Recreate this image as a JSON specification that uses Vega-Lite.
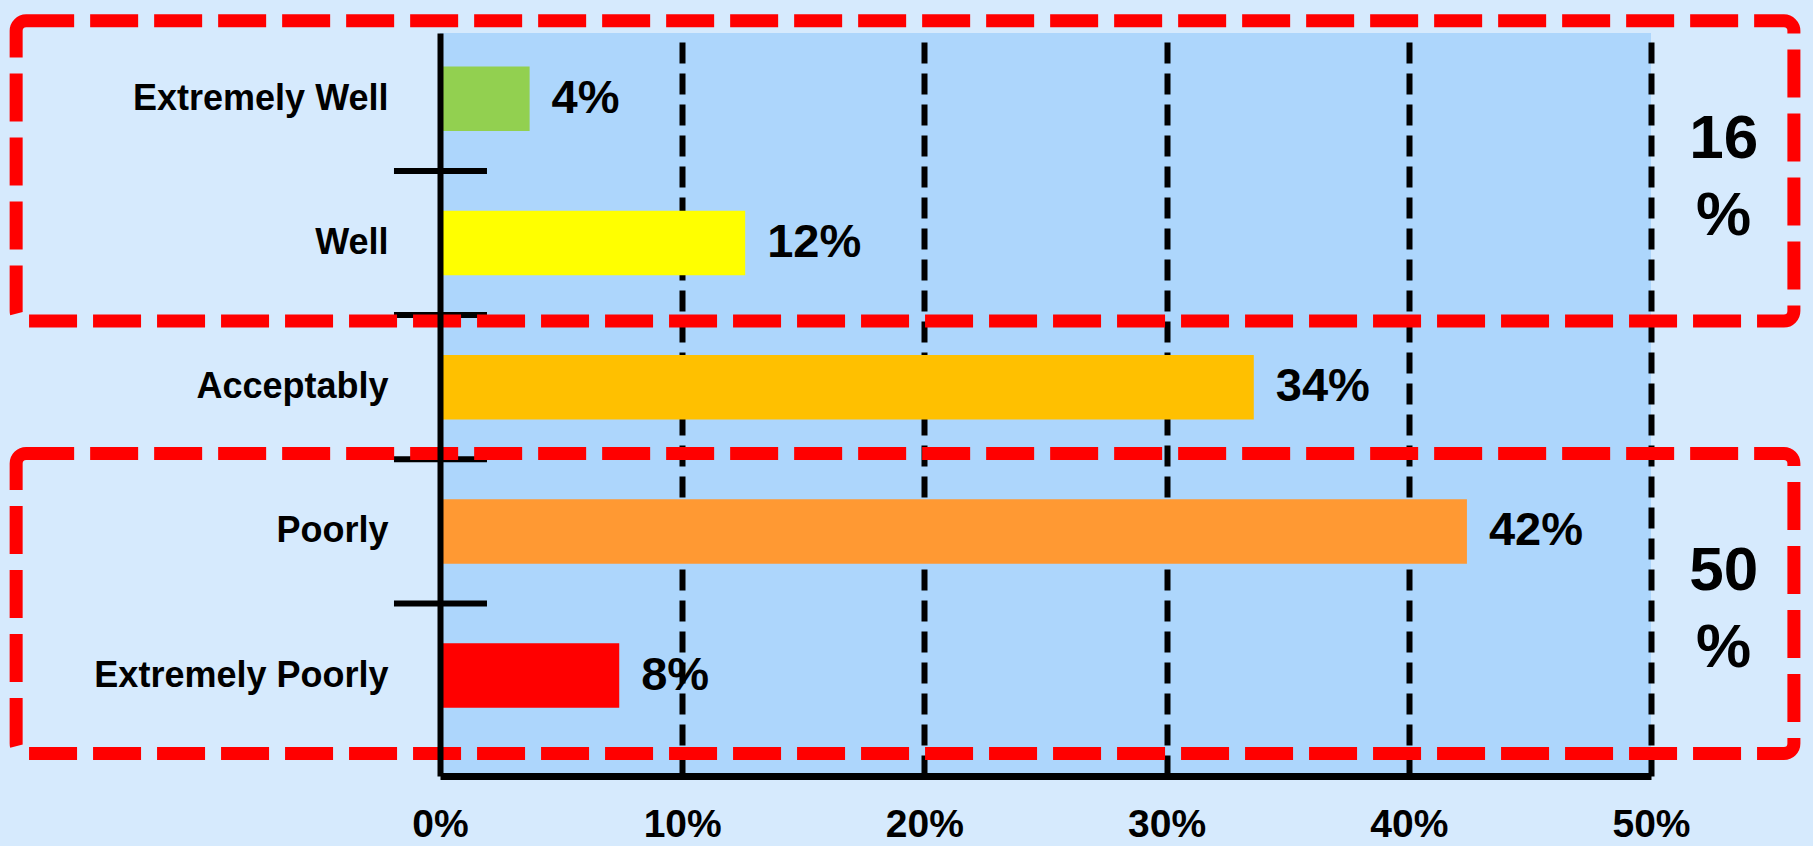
{
  "$schema": "https://vega.github.io/schema/vega-lite/v6.json",
  "width": 1211,
  "height": 743,
  "autosize": {"type": "none"},
  "padding": {"left": 440, "top": 33, "right": 162, "bottom": 70},
  "background": "#D6EAFD",
  "config": {
    "view": {"fill": "#ADD6FC", "stroke": null},
    "font": "Liberation Sans"
  },
  "datasets": {
    "responses": [
      {"rating": "Extremely Well", "share": 0.037, "label": "4%"},
      {"rating": "Well", "share": 0.126, "label": "12%"},
      {"rating": "Acceptably", "share": 0.336, "label": "34%"},
      {"rating": "Poorly", "share": 0.424, "label": "42%"},
      {"rating": "Extremely Poorly", "share": 0.074, "label": "8%"}
    ],
    "groups": [
      {"group": "Top two", "from": "Extremely Well", "to": "Well", "total": "16\n%"},
      {"group": "Bottom two", "from": "Poorly", "to": "Extremely Poorly", "total": "50\n%"}
    ]
  },
  "layer": [
    {
      "data": {"name": "responses"},
      "mark": {"type": "bar"},
      "encoding": {
        "y": {
          "field": "rating",
          "type": "nominal",
          "title": null,
          "scale": {
            "domain": ["Extremely Well", "Well", "Acceptably", "Poorly", "Extremely Poorly"],
            "paddingInner": 0.5527,
            "paddingOuter": 0.3527,
            "align": 0.33
          },
          "axis": {
            "domain": true,
            "domainColor": "#000000",
            "domainWidth": 6,
            "ticks": false,
            "grid": false,
            "labelFontSize": 36,
            "labelFontWeight": "bold",
            "labelColor": "#000000",
            "labelPadding": 52,
            "labelLimit": 500,
            "zindex": 1
          }
        },
        "x": {
          "field": "share",
          "type": "quantitative",
          "title": null,
          "scale": {"domain": [0, 0.5], "nice": false, "zero": true},
          "axis": {
            "values": [0, 0.1, 0.2, 0.3, 0.4, 0.5],
            "format": ".0%",
            "domain": true,
            "domainColor": "#000000",
            "domainWidth": 7,
            "ticks": false,
            "grid": true,
            "gridColor": "#000000",
            "gridWidth": 6,
            "gridDash": [21, 10],
            "gridOpacity": {"condition": {"test": "datum.value === 0", "value": 0}, "value": 1},
            "labelFontSize": 39,
            "labelFontWeight": "bold",
            "labelColor": "#000000",
            "labelPadding": 29,
            "labelFlush": false,
            "labelOverlap": false,
            "zindex": 0
          }
        },
        "color": {
          "field": "rating",
          "type": "nominal",
          "scale": {
            "domain": ["Extremely Well", "Well", "Acceptably", "Poorly", "Extremely Poorly"],
            "range": ["#92D050", "#FFFF00", "#FFC000", "#FF9933", "#FF0000"]
          },
          "legend": null
        }
      }
    },
    {
      "data": {"name": "responses"},
      "mark": {"type": "text", "align": "left", "baseline": "middle", "dx": 22, "fontSize": 47, "fontWeight": "bold", "color": "#000000"},
      "encoding": {
        "y": {"field": "rating", "type": "nominal", "title": null},
        "x": {"field": "share", "type": "quantitative", "title": null},
        "text": {"field": "label", "type": "nominal"}
      }
    },
    {
      "data": {"name": "responses"},
      "transform": [{"filter": "datum.rating !== 'Extremely Well'"}],
      "mark": {"type": "rule", "color": "#000000", "strokeWidth": 6, "yOffset": -72.1},
      "encoding": {
        "y": {"field": "rating", "type": "nominal", "title": null},
        "x": {"datum": -0.019},
        "x2": {"datum": 0.0194}
      }
    },
    {
      "data": {"name": "groups"},
      "mark": {
        "type": "rect",
        "filled": false,
        "stroke": "#FF0000",
        "strokeWidth": 13,
        "strokeDash": [48, 16],
        "cornerRadius": 10,
        "yOffset": -78,
        "y2Offset": 78
      },
      "encoding": {
        "y": {"field": "from", "type": "nominal", "title": null},
        "y2": {"field": "to"},
        "x": {"datum": -0.175},
        "x2": {"datum": 0.559}
      }
    },
    {
      "data": {"name": "groups"},
      "mark": {"type": "text", "align": "center", "baseline": "middle", "dy": 40, "fontSize": 62, "fontWeight": "bold", "lineBreak": "\n", "lineHeight": 77, "color": "#000000"},
      "encoding": {
        "y": {"field": "from", "type": "nominal", "title": null},
        "x": {"datum": 0.53},
        "text": {"field": "total", "type": "nominal"}
      }
    }
  ]
}
